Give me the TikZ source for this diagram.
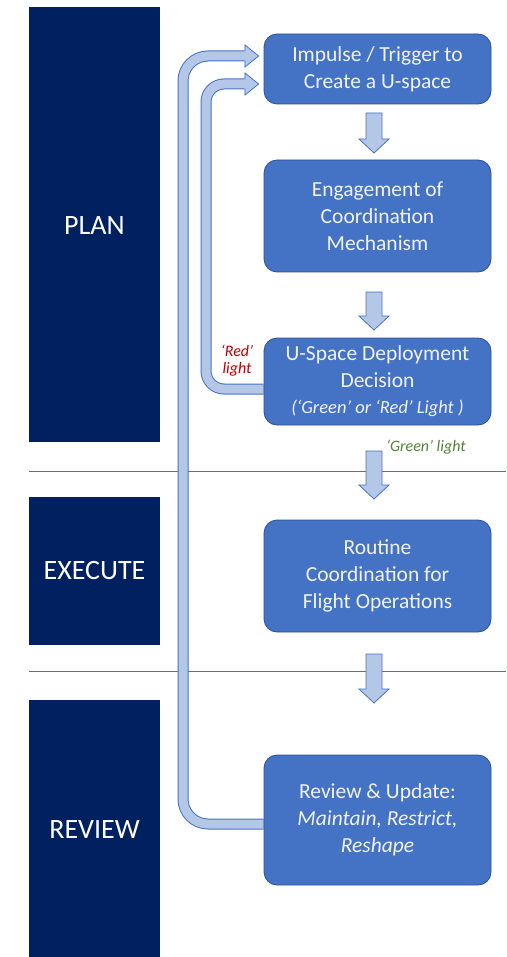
\documentclass[tikz,border=0pt]{standalone}
\usepackage{fontspec}
\setmainfont{Carlito}
\begin{document}
\begin{tikzpicture}[x=1pt,y=-1pt,
  bartext/.style={text=white,font=\fontsize{28}{32}\selectfont},
  stepbox/.style={rectangle,rounded corners=13,fill=boxblue,draw=boxedge,line width=0.8,
    minimum width=227,text=boxtext,align=center,inner sep=0pt,
    font=\fontsize{21.5}{27}\selectfont},
  sep/.style={draw=boxblue,line width=0.9},
  bandout/.style={line width=11,draw=boxblue,rounded corners=#1},
  bandin/.style={line width=9,draw=bandfill,rounded corners=#1},
  blockarrow/.style={fill=bandfill,draw=boxblue,line width=0.8,line join=miter},
  lbl/.style={font=\fontsize{16}{17}\selectfont\itshape,align=center,inner sep=0pt},
]
\definecolor{navy}{HTML}{002060}
\definecolor{boxblue}{HTML}{4472C4}
\definecolor{boxedge}{HTML}{2F528F}
\definecolor{boxtext}{HTML}{F2F2F2}
\definecolor{bandfill}{HTML}{B4C7E7}
\definecolor{redlbl}{HTML}{C00000}
\definecolor{greenlbl}{HTML}{548235}
\useasboundingbox (0,0) rectangle (506,957);

% phase bars
\fill[navy] (29,7) rectangle (160,442);
\fill[navy] (29,497) rectangle (160,645);
\fill[navy] (29,700) rectangle (160,957);
\node[bartext] (plan) at (94.5,226) {PLAN};
\node[bartext] (exec) at (94.5,571) {EXECUTE};
\node[bartext] (rev) at (94.5,830) {REVIEW};

% separators
\draw[sep] (29,471) -- (506,471);
\draw[sep] (29,671) -- (506,671);

% boxes
\node[stepbox,minimum height=70] (b1) at (377.5,69) {Impulse / Trigger to\\Create a U-space};
\node[stepbox,minimum height=112] (b2) at (377.5,216) {Engagement of\\Coordination\\Mechanism};
\node[stepbox,minimum height=87] (b3) at (377.5,381.5) {U-Space Deployment\\Decision\\[-1pt]{\fontsize{18.5}{22}\selectfont\itshape (‘Green’ or ‘Red’ Light )}};
\node[stepbox,minimum height=112] (b4) at (377.5,576) {Routine\\Coordination for\\Flight Operations};
\node[stepbox,minimum height=130] (b5) at (377.5,820) {Review \& Update:\\\textit{Maintain, Restrict,}\\\textit{Reshape}};

% down block arrows
\foreach \t/\b in {113/153, 292/330, 451/499, 654/703}{
  \draw[blockarrow] (366,\t) -- (382,\t) -- (382,\b-14) -- (389,\b-14) -- (374,\b)
     -- (359,\b-14) -- (366,\b-14) -- cycle;
}

% loop arrows
\coordinate (oy) at (0,824);
\coordinate (iy) at (0,389);
\coordinate (o1) at (b5.west |- oy);
\coordinate (o2) at (245,56);
\draw[bandout=25] (o1) -- (183,824) -- (183,56) -- (o2);
\draw[bandin=25] ([xshift=-0.6]o1) -- (183,824) -- (183,56) -- ([xshift=0.6]o2);
\fill[bandfill] (244.5,45) -- ([xshift=-5]b1.west |- o2) -- (244.5,67) -- cycle;
\draw[boxblue,line width=0.8,line join=miter] (245,51) -- (245,45) -- ([xshift=-5]b1.west |- o2) -- (245,67) -- (245,61);

\coordinate (i1) at (b3.west |- iy);
\coordinate (i2) at (245,84);
\draw[bandout=18] (i1) -- (206,389) -- (206,84) -- (i2);
\draw[bandin=18] ([xshift=-0.6]i1) -- (206,389) -- (206,84) -- ([xshift=0.6]i2);
\fill[bandfill] (244.5,73) -- ([xshift=-5]b1.west |- i2) -- (244.5,95) -- cycle;
\draw[boxblue,line width=0.8,line join=miter] (245,79) -- (245,73) -- ([xshift=-5]b1.west |- i2) -- (245,95) -- (245,89);

% labels
\node[lbl,text=redlbl] (red) at (237,361) {‘Red’\\light};
\node[lbl,text=greenlbl] (green) at (426,447) {‘Green’ light};
\end{tikzpicture}
\end{document}
